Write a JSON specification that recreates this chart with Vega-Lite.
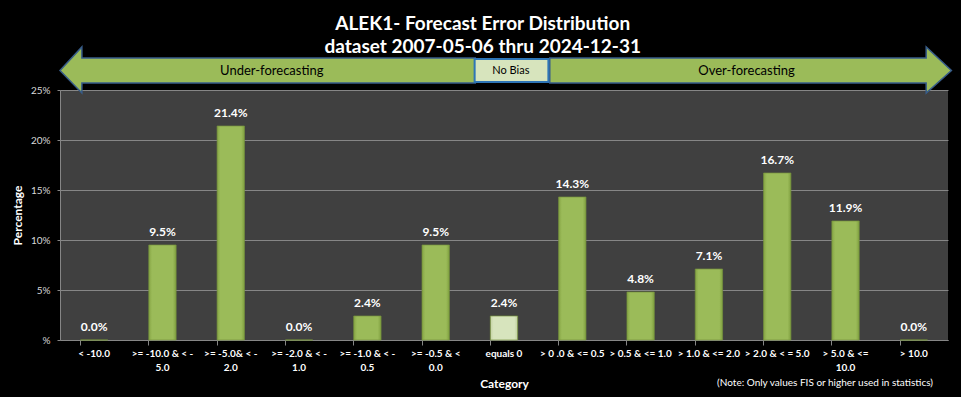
{
  "$schema": "https://vega.github.io/schema/vega-lite/v6.json",
  "autosize": {"type": "none"},
  "width": 888,
  "height": 250,
  "padding": {"left": 60, "top": 90, "right": 13, "bottom": 57},
  "background": "black",
  "view": {"fill": "#404040", "stroke": null},
  "title": {
    "text": ["ALEK1- Forecast Error Distribution", "dataset 2007-05-06  thru 2024-12-31"],
    "font": "Lato",
    "fontSize": 19,
    "fontWeight": "bold",
    "color": "white",
    "anchor": "middle",
    "frame": "bounds",
    "lineHeight": 23,
    "offset": -13
  },
  "datasets": {
    "bars": [
      {"category": "< -10.0", "pct": 0.0},
      {"category": ">= -10.0 & < -|5.0", "pct": 0.095},
      {"category": ">= -5.0& < -|2.0", "pct": 0.214},
      {"category": ">= -2.0 & < -|1.0", "pct": 0.0},
      {"category": ">= -1.0 & < -|0.5", "pct": 0.024},
      {"category": ">= -0.5 & <|0.0", "pct": 0.095},
      {"category": "equals 0", "pct": 0.024},
      {"category": "> 0 .0 & <= 0.5", "pct": 0.143},
      {"category": "> 0.5 & <= 1.0", "pct": 0.048},
      {"category": "> 1.0 & <= 2.0", "pct": 0.071},
      {"category": "> 2.0 & < = 5.0", "pct": 0.167},
      {"category": "> 5.0 & <=|10.0", "pct": 0.119},
      {"category": "> 10.0", "pct": 0.0}
    ],
    "arrows": [
      {"arrow": "left", "x": 0, "top": 0.2695, "bottom": 0.2695},
      {"arrow": "left", "x": 0.32, "top": 0.293, "bottom": 0.247},
      {"arrow": "left", "x": 0.321, "top": 0.282, "bottom": 0.257},
      {"arrow": "left", "x": 6.08, "top": 0.282, "bottom": 0.257},
      {"arrow": "right", "x": 7.17, "top": 0.282, "bottom": 0.257},
      {"arrow": "right", "x": 12.68, "top": 0.282, "bottom": 0.257},
      {"arrow": "right", "x": 12.681, "top": 0.293, "bottom": 0.247},
      {"arrow": "right", "x": 13.05, "top": 0.2695, "bottom": 0.2695}
    ],
    "labels": [
      {"text": "Under-forecasting", "x": 3.1, "y": 0.2695, "kind": "arrow"},
      {"text": "Over-forecasting", "x": 10.05, "y": 0.2695, "kind": "arrow"},
      {"text": "No  Bias", "x": 6.6, "y": 0.2695, "kind": "box"},
      {"text": "(Note: Only values FIS or higher used in statistics)", "x": 11.2, "y": -0.043, "kind": "note"}
    ]
  },
  "resolve": {"scale": {"x": "independent"}},
  "layer": [
    {
      "data": {"name": "bars"},
      "encoding": {
        "x": {
          "field": "category", "type": "nominal", "sort": null,
          "scale": {"paddingInner": 0.6, "paddingOuter": 0.3},
          "axis": {
            "title": "Category",
            "titleColor": "white",
            "titleFont": "Lato",
            "titleFontSize": 12,
            "titleFontWeight": "bold",
            "titlePadding": 6,
            "labelExpr": "split(datum.value, '|')",
            "labelAngle": 0,
            "labelColor": "white",
            "labelFont": "Lato",
            "labelFontSize": 10,
            "labelFontWeight": "bold",
            "labelLineHeight": 14,
            "labelPadding": 3,
            "labelLimit": 0,
            "bandPosition": 0,
            "tickColor": "#868686",
            "tickSize": 5,
            "domainColor": "#868686",
            "grid": false
          }
        },
        "y": {
          "field": "pct", "type": "quantitative",
          "scale": {"domain": [0, 0.25], "nice": false},
          "axis": {
            "title": "Percentage",
            "titleColor": "white",
            "titleFont": "Lato",
            "titleFontSize": 12,
            "titleFontWeight": "bold",
            "titleX": -43,
            "titleY": 125,
            "titleAngle": -90,
            "titleBaseline": "middle",
            "values": [0, 0.05, 0.1, 0.15, 0.2, 0.25],
            "labelExpr": "datum.value == 0 ? '%' : format(datum.value, '.0%')",
            "labelColor": "#d9d9d9",
            "labelFont": "Lato",
            "labelFontSize": 10,
            "labelPadding": 7,
            "tickColor": "#868686",
            "tickSize": 3,
            "domainColor": "#868686",
            "gridColor": "#868686",
            "gridWidth": 1
          }
        }
      },
      "layer": [
        {
          "mark": {"type": "bar", "stroke": "#76933C", "strokeWidth": 0.7},
          "encoding": {
            "fill": {
              "condition": {"test": "datum.category == 'equals 0'", "value": {"gradient": "linear", "x1": 0, "y1": 0, "x2": 1, "y2": 0, "stops": [{"offset": 0, "color": "#C4D3A3"}, {"offset": 0.12, "color": "#D7E4BD"}, {"offset": 0.88, "color": "#D7E4BD"}, {"offset": 1, "color": "#BFCF9C"}]}},
              "value": {"gradient": "linear", "x1": 0, "y1": 0, "x2": 1, "y2": 0, "stops": [{"offset": 0, "color": "#86A544"}, {"offset": 0.12, "color": "#9BBB59"}, {"offset": 0.88, "color": "#9BBB59"}, {"offset": 1, "color": "#80A040"}]}
            }
          }
        },
        {
          "mark": {"type": "text", "baseline": "alphabetic", "dy": -9, "color": "white", "font": "Lato", "fontSize": 12, "fontWeight": "bold"},
          "encoding": {
            "text": {"field": "pct", "type": "quantitative", "format": ".1%"}
          }
        }
      ]
    },
    {
      "encoding": {
        "x": {"field": "x", "type": "quantitative", "scale": {"domain": [0, 13], "nice": false, "zero": false}, "axis": null}
      },
      "layer": [
        {
          "data": {"name": "arrows"},
          "mark": {"type": "area", "fill": "#9BBB59", "stroke": "#385D8A", "strokeWidth": 1.5, "fillOpacity": 1, "interpolate": "linear"},
          "encoding": {
            "y": {"field": "top", "type": "quantitative"},
            "y2": {"field": "bottom"},
            "detail": {"field": "arrow", "type": "nominal"}
          }
        },
        {
          "data": {"values": [{"x": 6.07, "x2": 7.15, "y": 0.281, "y2": 0.258}]},
          "mark": {"type": "rect", "fill": "#D7E4BD", "stroke": "#2E75B6", "strokeWidth": 2},
          "encoding": {
            "x2": {"field": "x2"},
            "y": {"field": "y", "type": "quantitative"},
            "y2": {"field": "y2"}
          }
        },
        {
          "data": {"name": "labels"},
          "transform": [{"filter": "datum.kind == 'arrow'"}],
          "mark": {"type": "text", "baseline": "middle", "align": "center", "color": "black", "font": "Lato", "fontSize": 13},
          "encoding": {
            "y": {"field": "y", "type": "quantitative"},
            "text": {"field": "text"}
          }
        },
        {
          "data": {"name": "labels"},
          "transform": [{"filter": "datum.kind == 'box'"}],
          "mark": {"type": "text", "baseline": "middle", "align": "center", "color": "black", "font": "Lato", "fontSize": 11},
          "encoding": {
            "y": {"field": "y", "type": "quantitative"},
            "text": {"field": "text"}
          }
        },
        {
          "data": {"name": "labels"},
          "transform": [{"filter": "datum.kind == 'note'"}],
          "mark": {"type": "text", "baseline": "middle", "align": "center", "color": "white", "font": "Lato", "fontSize": 10},
          "encoding": {
            "y": {"field": "y", "type": "quantitative"},
            "text": {"field": "text"}
          }
        }
      ]
    }
  ]
}
